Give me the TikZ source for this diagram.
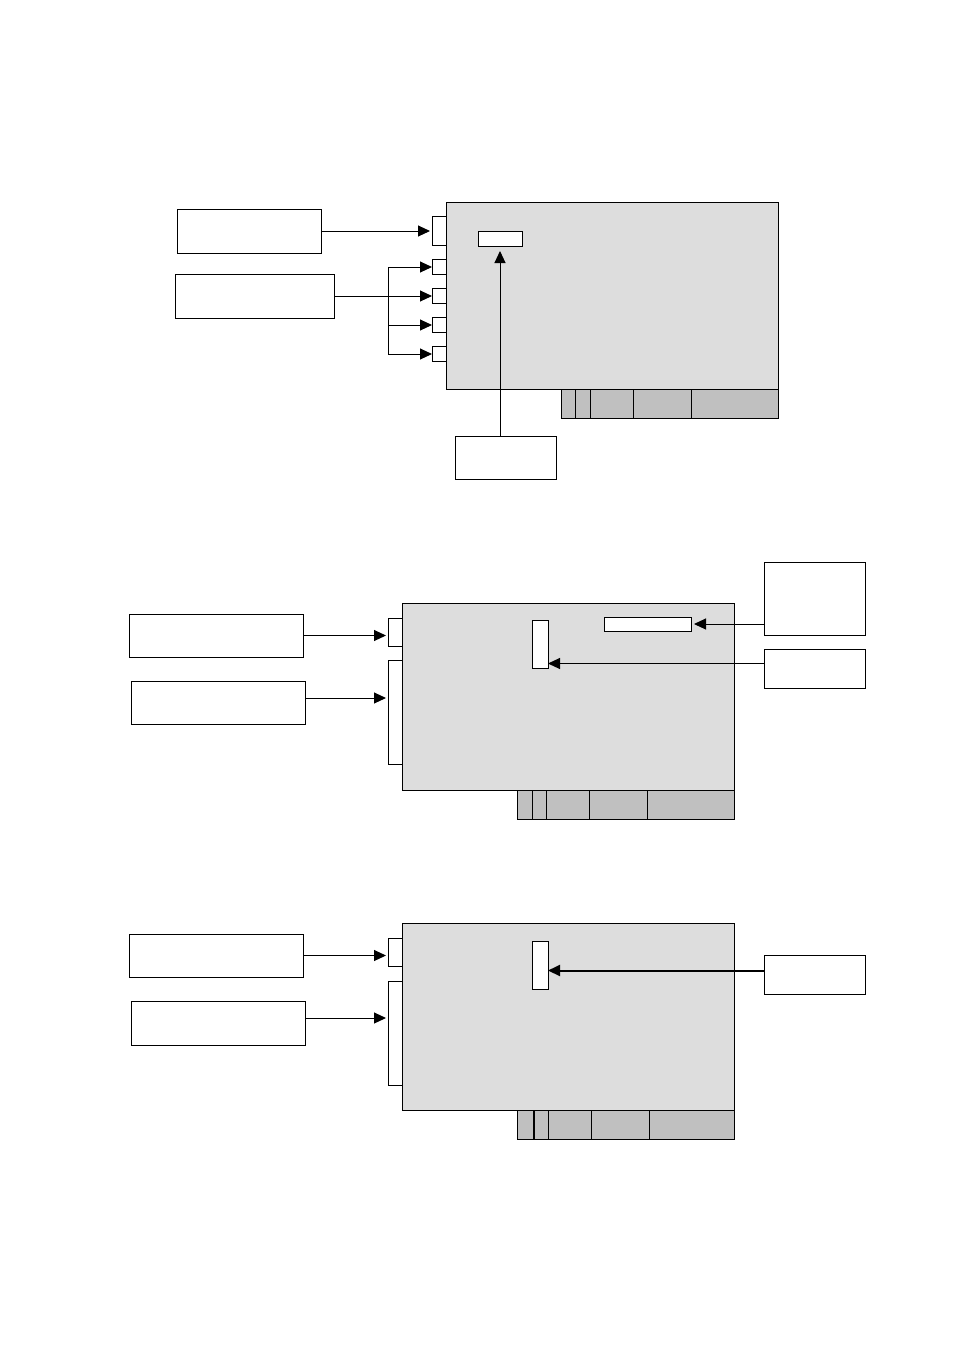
\documentclass[tikz,border=0pt]{standalone}
\usepackage{xcolor}
\usepackage{tikz}
\usetikzlibrary{positioning, arrows.meta, calc}
\definecolor{BoardGray}{RGB}{221,221,221}
\definecolor{PinGray}{RGB}{192,192,192}

\begin{document}
\begin{tikzpicture}[x=1pt, y=-1pt,
          box/.style={rectangle, draw, line width=1pt, fill=white,
                      inner sep=0pt, outer sep=0pt},
          board/.style={box, fill=BoardGray, minimum width=332pt, minimum height=187pt},
          strip/.style={box, fill=PinGray, minimum width=217pt, minimum height=29pt},
          arr/.style={-{Triangle[length=12pt, width=11pt]}, line width=1pt}
        ]
        \useasboundingbox (0,0) rectangle (954,1350);

        % ---------- Card 1 ----------
        \node[board] (board1) at (612, 295.5) {};
        \node[strip] (strip1) at (670, 403.5) {};
        \foreach \dx in {14, 29, 72, 130}
          \draw[line width=1pt] ($(strip1.north west)+(\dx,0)$) -- ($(strip1.south west)+(\dx,0)$);
        \node[box, minimum width=44pt, minimum height=15pt] (slot1) at (500, 238.5) {};

        % ports on the left edge
        \node[box, minimum width=14pt, minimum height=29pt] (port1) at (439, 230.5) {};
        \foreach \i/\y in {1/267, 2/296, 3/325, 4/354}
          \node[box, minimum width=14pt, minimum height=15pt] (pin\i) at (439, \y) {};

        % labels
        \node[box, minimum width=144pt, minimum height=44pt] (lblA) at (249, 231) {};
        \node[box, minimum width=159pt, minimum height=44pt] (lblB) at (254.5, 296) {};
        \node[box, minimum width=101pt, minimum height=43pt] (lblC) at (505.5, 457.5) {};

        \draw[arr, shorten >=2pt] (lblA.east) -- (lblA.east -| port1.west);
        \coordinate (bus) at (388, 296);
        \draw[line width=1pt] (lblB.east) -- (bus);
        \draw[line width=1pt] (bus |- pin1) -- (bus |- pin4);
        \foreach \i in {1,...,4}
          \draw[arr] (bus |- pin\i) -- (pin\i.west);
        \draw[arr, shorten >=5pt] (slot1 |- lblC.north) -- (slot1.south);

        % ---------- Card 2 ----------
        \node[board] (board2) at (568, 696.5) {};
        \node[strip] (strip2) at (625.5, 804.5) {};
        \foreach \dx in {15, 29, 72, 130}
          \draw[line width=1pt] ($(strip2.north west)+(\dx,0)$) -- ($(strip2.south west)+(\dx,0)$);
        \node[box, minimum width=16pt, minimum height=48pt] (slotV2) at (540, 644) {};
        \node[box, minimum width=87pt, minimum height=14pt] (slotH2) at (647.5, 624) {};

        \node[box, minimum width=14pt, minimum height=28pt] (brk2a) at (395, 632.5) {};
        \node[box, minimum width=14pt, minimum height=104pt] (brk2b) at (395, 712) {};

        \node[box, minimum width=174pt, minimum height=43pt] (lblD) at (216, 635.5) {};
        \node[box, minimum width=174pt, minimum height=43pt] (lblE) at (218, 703) {};
        \node[box, minimum width=101pt, minimum height=73pt] (lblF) at (814.5, 598.5) {};
        \node[box, minimum width=101pt, minimum height=39pt] (lblG) at (814.5, 668.5) {};

        \draw[arr, shorten >=2pt] (lblD.east) -- (lblD.east -| brk2a.west);
        \coordinate (e2) at ($(lblE.east)+(0,-5)$);
        \draw[arr, shorten >=2pt] (e2) -- (e2 -| brk2b.west);
        \draw[arr, shorten >=3pt] (slotH2.east -| lblF.west) -- (slotH2.east);
        \coordinate (g2) at ($(lblG.west)+(0,-5)$);
        \draw[arr] (g2) -- (g2 -| slotV2.east);

        % ---------- Card 3 ----------
        \node[board] (board3) at (568, 1016.5) {};
        \node[strip] (strip3) at (625.5, 1124.5) {};
        \draw[line width=2pt] ($(strip3.north west)+(17,0)$) -- ($(strip3.south west)+(17,0)$);
        \foreach \dx in {31, 74, 132}
          \draw[line width=1pt] ($(strip3.north west)+(\dx,0)$) -- ($(strip3.south west)+(\dx,0)$);
        \node[box, minimum width=16pt, minimum height=48pt] (slotV3) at (540, 965) {};

        \node[box, minimum width=14pt, minimum height=28pt] (brk3a) at (395, 952) {};
        \node[box, minimum width=14pt, minimum height=104pt] (brk3b) at (395, 1033) {};

        \node[box, minimum width=174pt, minimum height=43pt] (lblH) at (216, 955.5) {};
        \node[box, minimum width=174pt, minimum height=44pt] (lblI) at (218, 1023) {};
        \node[box, minimum width=101pt, minimum height=39pt] (lblJ) at (814.5, 974.5) {};

        \draw[arr, shorten >=2pt] (lblH.east) -- (lblH.east -| brk3a.west);
        \coordinate (i3) at ($(lblI.east)+(0,-5)$);
        \draw[arr, shorten >=2pt] (i3) -- (i3 -| brk3b.west);
        \coordinate (j3) at ($(lblJ.west)+(0,-4)$);
        \draw[arr, line width=2pt] (j3) -- (j3 -| slotV3.east);
      \end{tikzpicture}
\end{document}
